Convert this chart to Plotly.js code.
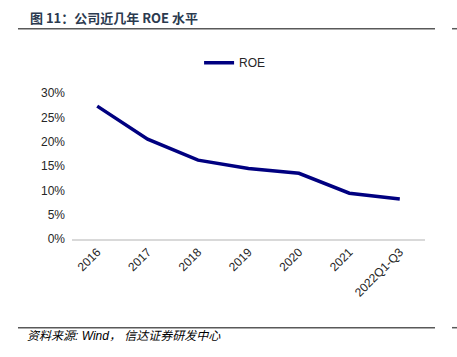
<!DOCTYPE html>
<html>
<head>
<meta charset="utf-8">
<script src="https://cdn.plot.ly/plotly-3.0.1.min.js"></script>
<style>html,body{margin:0;padding:0;background:#fff;}#chart{width:457px;height:357px;}</style>
</head>
<body>
<div id="chart"></div>
<script>
var categories = ["2016", "2017", "2018", "2019", "2020", "2021", "2022Q1-Q3"];
var roeValues = [27.3, 20.5, 16.2, 14.5, 13.5, 9.4, 8.2];
var yTickVals = [0, 5, 10, 15, 20, 25, 30];
var yTickText = ["0%", "5%", "10%", "15%", "20%", "25%", "30%"];
var seriesName = "ROE";
var titleText = "图 11：公司近几年 ROE 水平";
var sourceText = "资料来源: Wind， 信达证券研发中心";

var trace = {
  x: categories,
  y: roeValues,
  type: "scatter",
  mode: "lines",
  name: seriesName,
  line: {color: "#000080", width: 3.5},
  hoverinfo: "skip"
};

var layout = {
  width: 457,
  height: 357,
  margin: {l: 72, r: 32, t: 92.5, b: 118},
  paper_bgcolor: "#ffffff",
  plot_bgcolor: "#ffffff",
  font: {family: "Liberation Sans, Arial, sans-serif", size: 12, color: "#262626"},
  showlegend: true,
  legend: {
    orientation: "h",
    x: 0.36, xanchor: "left",
    y: 1.208, yanchor: "middle",
    font: {size: 12, color: "#262626"},
    bgcolor: "rgba(0,0,0,0)"
  },
  xaxis: {
    type: "category",
    range: [-0.5, 6.5],
    showgrid: false,
    showline: true,
    linecolor: "#d9d9d9",
    linewidth: 1.5,
    ticks: "",
    tickangle: -45,
    tickfont: {size: 12, color: "#262626"},
    fixedrange: true
  },
  yaxis: {
    range: [0, 30],
    tickvals: yTickVals,
    ticktext: yTickText,
    showgrid: false,
    zeroline: false,
    showline: false,
    ticks: "",
    ticklabelstandoff: 6,
    tickfont: {size: 12, color: "#262626"},
    fixedrange: true
  },
  shapes: [
    {type: "line", xref: "paper", yref: "paper", x0: -0.153, x1: 1.0283, y0: 1.4403, y1: 1.4403, line: {color: "#595959", width: 1.5}},
    {type: "line", xref: "paper", yref: "paper", x0: 1.0765, x1: 1.0907, y0: 1.4403, y1: 1.4403, line: {color: "#595959", width: 1.5}},
    {type: "line", xref: "paper", yref: "paper", x0: -0.153, x1: 1.0283, y0: -0.6075, y1: -0.6075, line: {color: "#595959", width: 1.5}},
    {type: "line", xref: "paper", yref: "paper", x0: 1.0765, x1: 1.0907, y0: -0.6075, y1: -0.6075, line: {color: "#595959", width: 1.5}}
  ],
  annotations: [
    {text: "<b>" + titleText + "</b>", xref: "paper", yref: "paper", x: -0.1246, y: 1.515, xanchor: "left", yanchor: "middle", showarrow: false,
     font: {family: "Noto Sans CJK SC, Liberation Sans, sans-serif", size: 13, color: "#2b3a4f"}},
    {text: "<i>" + sourceText + "</i>", xref: "paper", yref: "paper", x: -0.133, y: -0.662, xanchor: "left", yanchor: "middle", showarrow: false,
     font: {family: "Liberation Sans, Noto Sans CJK SC, sans-serif", size: 12, color: "#000000"}}
  ]
};

Plotly.newPlot("chart", [trace], layout, {staticPlot: true, displayModeBar: false});
</script>
</body>
</html>
